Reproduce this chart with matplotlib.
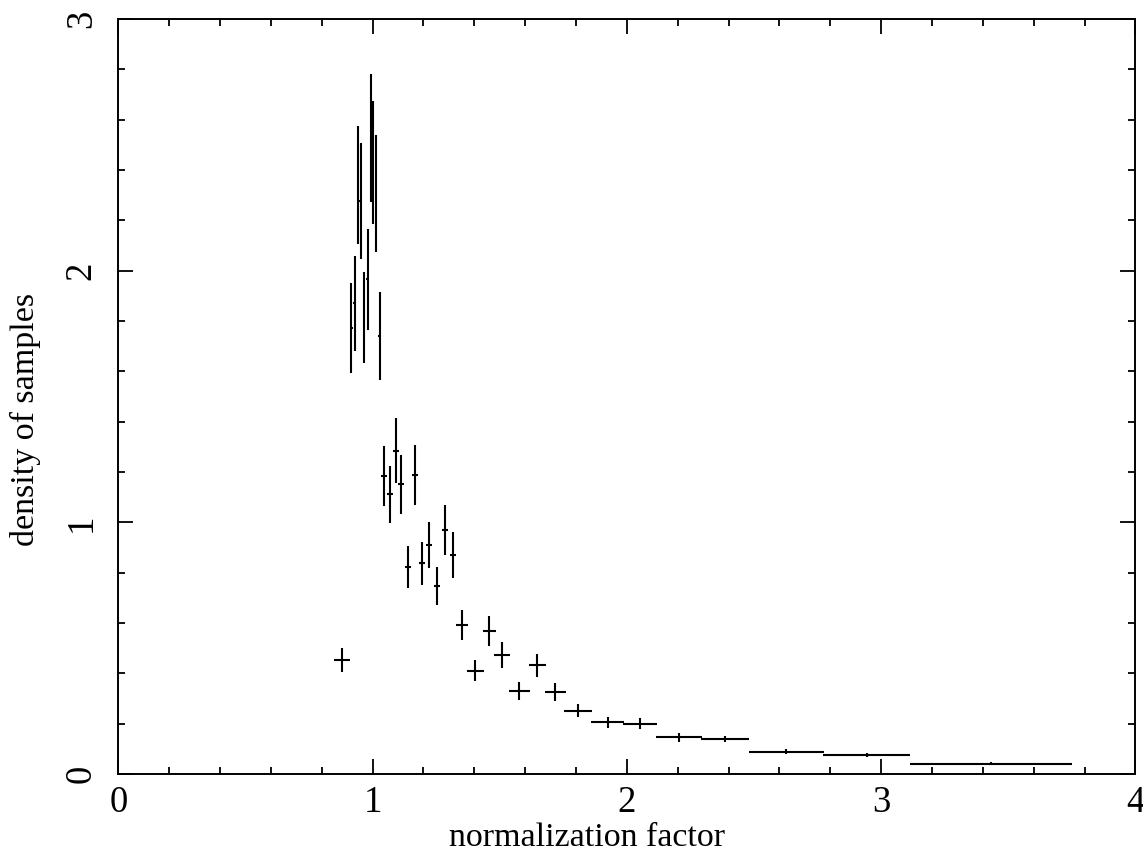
#!/usr/bin/env python3
"""Density of samples against normalization factor, with error bars."""

import matplotlib

matplotlib.use("Agg")
import matplotlib.pyplot as plt
from matplotlib.ticker import MultipleLocator

# bin centre, half width, density, density error
norm_factor = [0.8795, 0.9161, 0.9291, 0.9425, 0.9528, 0.9661, 0.9803, 0.9937,
               1.0016, 1.0134, 1.0276, 1.0433, 1.0669, 1.0906, 1.1102, 1.1394,
               1.1669, 1.1929, 1.2220, 1.2535, 1.2862, 1.3150, 1.3520, 1.4043,
               1.4594, 1.5094, 1.5776, 1.6472, 1.7181, 1.8087, 1.9240, 2.0512,
               2.2063, 2.3858, 2.6276, 2.9425, 3.4319]
norm_halfwidth = [0.033, 0.005, 0.005, 0.005, 0.005, 0.005, 0.005, 0.005,
                  0.005, 0.005, 0.005, 0.012, 0.012, 0.012, 0.012, 0.012,
                  0.012, 0.012, 0.012, 0.012, 0.012, 0.012, 0.024, 0.034,
                  0.026, 0.031, 0.043, 0.033, 0.042, 0.055, 0.065, 0.066,
                  0.090, 0.095, 0.146, 0.170, 0.320]
density = [0.453, 1.773, 1.870, 2.340, 2.277, 1.814, 1.965, 2.526,
           2.429, 2.307, 1.741, 1.184, 1.111, 1.285, 1.151, 0.824,
           1.188, 0.837, 0.910, 0.747, 0.969, 0.870, 0.592, 0.411,
           0.569, 0.473, 0.331, 0.432, 0.327, 0.252, 0.205, 0.200,
           0.147, 0.140, 0.089, 0.0755, 0.041]
density_err = [0.048, 0.179, 0.189, 0.235, 0.229, 0.182, 0.199, 0.255,
               0.245, 0.233, 0.176, 0.120, 0.112, 0.129, 0.117, 0.084,
               0.121, 0.085, 0.093, 0.077, 0.099, 0.090, 0.061, 0.043,
               0.060, 0.050, 0.035, 0.045, 0.036, 0.027, 0.022, 0.021,
               0.018, 0.013, 0.010, 0.008, 0.005]

plt.rcParams["font.family"] = ["Liberation Serif", "DejaVu Serif"]

fig = plt.figure(figsize=(11.43, 8.55), dpi=100)
ax = fig.add_axes([0.1035, 0.0947, 0.8899, 0.8831])

ax.errorbar(norm_factor, density, xerr=norm_halfwidth, yerr=density_err,
            fmt="none", ecolor="black", elinewidth=1.5, capsize=0)

ax.set_xlim(0, 4)
ax.set_ylim(0, 3)
ax.xaxis.set_major_locator(MultipleLocator(1))
ax.xaxis.set_minor_locator(MultipleLocator(0.2))
ax.yaxis.set_major_locator(MultipleLocator(1))
ax.yaxis.set_minor_locator(MultipleLocator(0.2))
ax.tick_params(which="both", direction="in", top=True, right=True, width=1.3,
               labelsize=26.5)
ax.tick_params(which="major", length=11)
ax.tick_params(which="minor", length=5)
ax.tick_params(axis="x", pad=8)
ax.tick_params(axis="y", pad=14)
for lab in ax.get_yticklabels():
    lab.set_rotation(90)
    lab.set_va("center")
for spine in ax.spines.values():
    spine.set_linewidth(1.4)

ax.set_xlabel("normalization factor", fontsize=24.5)
ax.set_ylabel("density of samples", fontsize=24.5)
ax.xaxis.set_label_coords(0.461, -0.064)
ax.yaxis.set_label_coords(-0.076, 0.469)

fig.savefig("out.png", dpi=100)
